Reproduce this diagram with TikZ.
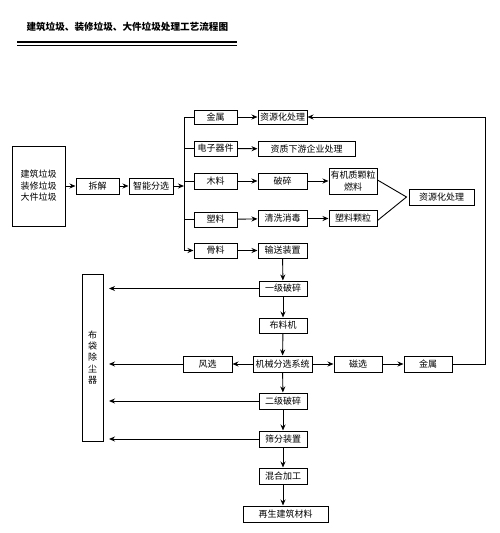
\documentclass[tikz,border=0pt]{standalone}
\usepackage{fontspec}
\newfontfamily\cjk{Noto Sans CJK SC}
\usetikzlibrary{arrows.meta}
\begin{document}
\begin{tikzpicture}[x=1pt,y=-1pt,
  box/.style={draw,line width=1pt,inner sep=0pt,minimum height=15pt,font=\cjk\fontsize{9}{11.5}\selectfont,align=center},
  arr/.style={-{Stealth[length=6pt,width=5pt]},line width=0.9pt},
  ln/.style={line width=0.9pt}]
\useasboundingbox (0,0) rectangle (500,533);
% title
\node[font=\cjk\bfseries\fontsize{9.6}{11}\selectfont,anchor=west] (title) at (23,27) {建筑垃圾、装修垃圾、大件垃圾处理工艺流程图};
\draw[line width=1.3pt] (17,42) -- (237,42);
\draw[line width=1.3pt] (17,45.5) -- (237,45.5);
% left
\node[box,minimum width=53pt,minimum height=80pt] (src) at (38.5,186) {建筑垃圾\\装修垃圾\\大件垃圾};
\node[box,minimum width=43pt,minimum height=16pt] (cj) at (97.5,186) {拆解};
\node[box,minimum width=44pt,minimum height=16pt] (zn) at (151,186) {智能分选};
\coordinate (bt) at (184,117);
\coordinate (bb) at (184,250.5);
\coordinate (bm) at (184,186);
% branches
\node[box,minimum width=43pt,minimum height=14pt] (js1) at (215.5,117) {金属};
\node[box,minimum width=43pt,minimum height=15pt] (dz) at (215.5,148.5) {电子器件};
\node[box,minimum width=43pt,minimum height=16pt] (ml) at (215.5,181) {木料};
\node[box,minimum width=43pt,minimum height=15pt] (sl) at (215.5,219.5) {塑料};
\node[box,minimum width=43pt,minimum height=15pt] (gl) at (215.5,250.5) {骨料};
\node[box,minimum width=49pt,minimum height=14pt] (zy1) at (282.5,117) {资源化处理};
\node[box,minimum width=97pt,minimum height=15pt] (zz) at (306.5,149) {资质下游企业处理};
\node[box,minimum width=49pt,minimum height=16pt] (ps) at (282.5,181) {破碎};
\node[box,minimum width=48pt,minimum height=26pt] (yj) at (353,181) {有机质颗粒\\燃料};
\node[box,minimum width=49pt,minimum height=16pt] (qx) at (282.5,218.5) {清洗消毒};
\node[box,minimum width=48pt,minimum height=16pt] (slkl) at (353,218.5) {塑料颗粒};
\node[box,minimum width=65pt,minimum height=16pt] (zy2) at (441.5,197) {资源化处理};
\node[box,minimum width=49pt,minimum height=15pt] (ss) at (282.5,250.5) {输送装置};
% main column
\node[box,minimum width=48pt,minimum height=15pt] (yj1) at (283,288.5) {一级破碎};
\node[box,minimum width=48pt,minimum height=15pt] (blj) at (283,325.5) {布料机};
\node[box,minimum width=59pt,minimum height=16pt] (jx) at (282.5,364) {机械分选系统};
\node[box,minimum width=49pt,minimum height=16pt] (fx) at (207.5,364) {风选};
\node[box,minimum width=48pt,minimum height=16pt] (cx) at (358,364) {磁选};
\node[box,minimum width=48pt,minimum height=16pt] (js2) at (428,364) {金属};
\node[box,minimum width=48pt,minimum height=16pt] (ej) at (283,401) {二级破碎};
\node[box,minimum width=48pt,minimum height=16pt] (sf) at (283,439) {筛分装置};
\node[box,minimum width=48pt,minimum height=16pt] (hh) at (283,476) {混合加工};
\node[box,minimum width=85pt,minimum height=16pt] (zs) at (285.5,514) {再生建筑材料};
\node[box,minimum width=21pt,minimum height=167pt,font=\cjk\fontsize{9}{11.2}\selectfont] (bd) at (92.5,357.5) {布\\袋\\除\\尘\\器};
% connectors top
\draw[arr] (src.east) -- (cj.west);
\draw[arr] (cj.west -| cj.east) -- (zn.west);
\draw[arr] (zn.east) -- (bm);
\draw[ln] (js1.west) -| (bt) -- (bb);
\draw[ln] (dz.west) -- (dz.west -| bt);
\draw[ln] (ml.west) -- (ml.west -| bt);
\draw[ln] (sl.west) -- (sl.west -| bt);
\draw[arr] (bb) -- (gl.west);
\draw[arr] (js1) -- (zy1);
\draw[arr] (dz) -- (zz);
\draw[arr] (ml) -- (ps);
\draw[arr] (ps) -- (yj);
\draw[arr] (sl) -- (qx);
\draw[arr] (qx) -- (slkl);
\draw[arr] (gl) -- (ss);
\draw[ln] ([yshift=1pt]yj.east) -- ([xshift=-2pt]zy2.west) -- ([yshift=-2pt]slkl.east);
% main column connectors
\draw[arr] (ss) -- (yj1);
\draw[arr] (yj1) -- (blj);
\draw[arr] (blj) -- (jx);
\draw[arr] (jx) -- (ej);
\draw[arr] (ej) -- (sf);
\draw[arr] (sf) -- (hh);
\draw[arr] (hh) -- (zs.north -| hh.south);
\draw[arr] (jx) -- (fx);
\draw[arr] (jx) -- (cx);
\draw[arr] (cx) -- (js2);
\draw[arr] (js2.east) -- (485,364) -- (485,117) -- (zy1.east);
% to dust collector
\coordinate (dc) at (109,0);
\draw[arr] (yj1.west) -- (yj1.west -| dc);
\draw[arr] (fx.west) -- (fx.west -| dc);
\draw[arr] (ej.west) -- (ej.west -| dc);
\draw[arr] (sf.west) -- (sf.west -| dc);
\end{tikzpicture}
\end{document}
